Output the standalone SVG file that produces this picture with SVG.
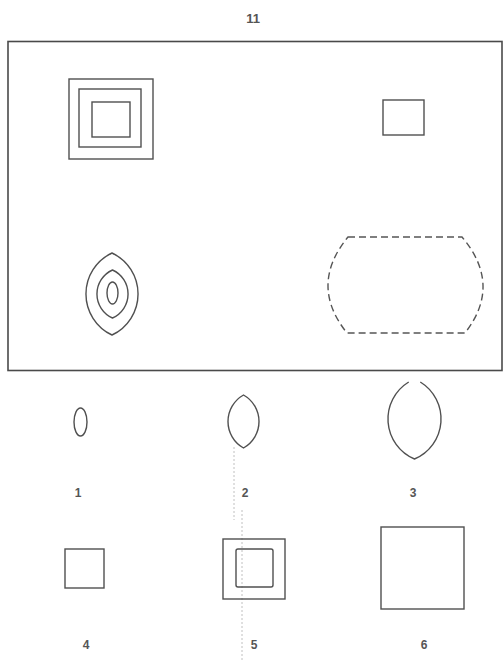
<svg xmlns="http://www.w3.org/2000/svg" width="503" height="662" viewBox="0 0 503 662">
<style>
.s{fill:none;stroke:#505050;stroke-width:1.4}
.d{fill:none;stroke:#555;stroke-width:1.4;stroke-dasharray:7 4}
.f{fill:none;stroke:#4a4a4a;stroke-width:1.6}
.lbl{font-family:"Liberation Sans",Arial,sans-serif;font-size:12px;fill:#555;text-anchor:middle;font-weight:bold}
.fold{fill:none;stroke:#b0b0b0;stroke-width:0.8;stroke-dasharray:2 2}
</style>
<rect width="503" height="662" fill="#ffffff"/>
<text class="lbl" x="253" y="23" style="font-size:13px">11</text>
<g id="frame"><rect class="f" x="8" y="41.5" width="494" height="329"/></g>
<g id="cell-nested-squares">
<rect class="s" x="69" y="79" width="84" height="80"/>
<rect class="s" x="79" y="89" width="62" height="58"/>
<rect class="s" x="92" y="102" width="38" height="35"/>
</g>
<g id="cell-small-square"><rect class="s" x="383" y="100" width="41" height="35"/></g>
<g id="cell-nested-lenses">
<path class="s" d="M112,253 A45.3,45.3 0 0 0 112,335 A45.3,45.3 0 0 0 112,253 Z"/>
<path class="s" d="M112.5,270 A26.3,26.3 0 0 0 112.5,318 A26.3,26.3 0 0 0 112.5,270 Z"/>
<ellipse class="s" cx="112.5" cy="293" rx="5.5" ry="11"/>
</g>
<g id="cell-dashed"><path class="d" d="M348,237 H462 Q502.5,285 465,333 H347 Q308.5,285 348,237 Z"/></g>
<g id="connectors"></g>
<g id="fold"><path class="fold" d="M234,447 V520 M242,510 V662"/></g>
<g id="opt1"><ellipse class="s" cx="80.5" cy="422" rx="6.5" ry="14"/><text class="lbl" x="78" y="497">1</text></g>
<g id="opt2"><path class="s" d="M243.5,395 A30.4,30.4 0 0 0 243.5,448 A30.4,30.4 0 0 0 243.5,395 Z"/><text class="lbl" x="245" y="497">2</text></g>
<g id="opt3"><path class="s" d="M408.7,382 A43.4,43.4 0 0 0 414.5,459 A43.4,43.4 0 0 0 420.3,382"/><text class="lbl" x="413" y="497">3</text></g>
<g id="opt4"><rect class="s" x="65" y="549" width="39" height="39"/><text class="lbl" x="86" y="649">4</text></g>
<g id="opt5"><rect class="s" x="223" y="539" width="62" height="60"/><rect class="s" x="236" y="549" width="37" height="38" rx="2" stroke-width="1.7"/><text class="lbl" x="254" y="649">5</text></g>
<g id="opt6"><rect class="s" x="381" y="527" width="83" height="82"/><text class="lbl" x="424" y="649">6</text></g>
</svg>
